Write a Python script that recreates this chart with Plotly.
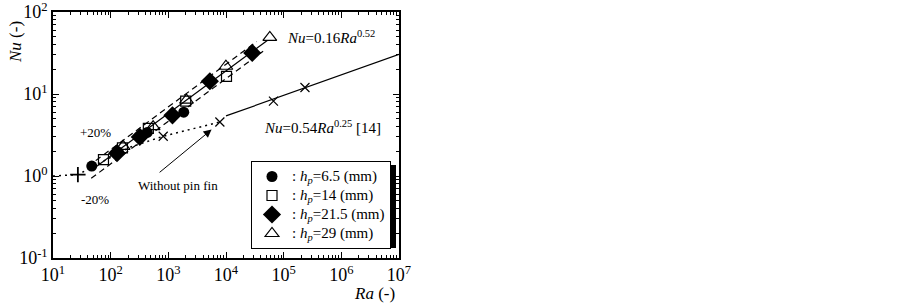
import numpy as np
import plotly.graph_objects as go

# ---- data ----
circ_ra = [47, 135, 430, 1850]
circ_nu = [1.32, 1.95, 3.4, 6.0]
sq_ra = [75, 160, 450, 2000, 10200]
sq_nu = [1.58, 2.2, 3.8, 8.2, 16.4]
dia_ra = [129, 320, 1180, 5250, 28500]
dia_nu = [1.9, 3.0, 5.5, 14.3, 31.7]
tri_ra = [164, 545, 2065, 9960, 57500]
tri_nu = [2.3, 4.0, 8.4, 21.8, 49]

nopin_ra = [815, 7830, 66500, 234000]
nopin_nu = [3.05, 4.56, 8.2, 12.0]
plus_ra = [27]
plus_nu = [1.04]

dot_ra = [10, 27, 215, 815, 7830]
dot_nu = [1.0, 1.04, 2.24, 3.05, 4.56]

fit_ra = [45, 52000]
fit_nu = [1.16, 45]
up_ra = [55, 34000]
up_nu = [1.54, 43.6]
lo_ra = [46, 44000]
lo_nu = [0.937, 33.3]
ref_ra = [10000, 1e7]
ref_nu = [5.4, 30.4]

x_decades = [1, 2, 3, 4, 5, 6, 7]
y_decades = [-1, 0, 1, 2]
x_ticktext = ["10<sup>1</sup>", "10<sup>2</sup>", "10<sup>3</sup>", "10<sup>4</sup>",
              "10<sup>5</sup>", "10<sup>6</sup>", "10<sup>7</sup>"]
y_ticktext = ["10<sup>-1</sup>", "10<sup>0</sup>", "10<sup>1</sup>", "10<sup>2</sup>"]

legend_labels = ["6.5", "14", "21.5", "29"]
legend_names = ["<span style='font-size:15px'>: <i>h<sub>p</sub></i>=%s (mm)</span>" % v
                for v in legend_labels]

FONT = "Liberation Serif"

fig = go.Figure()

def line(xs, ys, dash="solid", width=1.2):
    fig.add_trace(go.Scatter(x=xs, y=ys, mode="lines", showlegend=False,
                             line=dict(color="black", width=width, dash=dash),
                             hoverinfo="skip"))

line(dot_ra, dot_nu, dash="2px,4px", width=1.5)
line(ref_ra, ref_nu)
line(up_ra, up_nu, dash="6px,4px")
line(lo_ra, lo_nu, dash="6px,4px")
line(fit_ra, fit_nu)

fig.add_trace(go.Scatter(x=nopin_ra, y=nopin_nu, mode="markers", showlegend=False,
                         marker=dict(symbol="x-thin-open", size=9, color="black",
                                     line=dict(color="black", width=1.2))))
fig.add_trace(go.Scatter(x=plus_ra, y=plus_nu, mode="markers", showlegend=False,
                         marker=dict(symbol="cross-thin-open", size=11, color="black",
                                     line=dict(color="black", width=1.8))))

fig.add_trace(go.Scatter(x=circ_ra, y=circ_nu, mode="markers", name=legend_names[0],
                         marker=dict(symbol="circle", size=11, color="black")))
fig.add_trace(go.Scatter(x=sq_ra, y=sq_nu, mode="markers", name=legend_names[1],
                         marker=dict(symbol="square-open", size=10, color="black",
                                     line=dict(width=1.2))))
fig.add_trace(go.Scatter(x=dia_ra, y=dia_nu, mode="markers", name=legend_names[2],
                         marker=dict(symbol="diamond", size=14, color="black")))
fig.add_trace(go.Scatter(x=tri_ra, y=tri_nu, mode="markers", name=legend_names[3],
                         marker=dict(symbol="triangle-up-open", size=12, color="black",
                                     line=dict(width=1.2))))

minor_x = [m * 10 ** d for d in x_decades[:-1] for m in range(2, 10)]
minor_y = [m * 10.0 ** d for d in y_decades[:-1] for m in range(2, 10)]

axis_common = dict(showline=True, linecolor="black", linewidth=1.5, mirror="ticks",
                   ticks="inside", ticklen=6, tickwidth=1.2, tickcolor="black",
                   showgrid=False, zeroline=False, automargin=False,
                   ticklabeloverflow="allow",
                   tickfont=dict(family=FONT, size=18, color="black"))

fig.update_xaxes(type="log", range=[1, 7], tickmode="array",
                 tickvals=[10 ** d for d in x_decades], ticktext=x_ticktext,
                 minor=dict(tickmode="array", tickvals=minor_x, ticks="inside",
                            ticklen=3, tickwidth=1, tickcolor="black", showgrid=False),
                 **axis_common)
fig.update_yaxes(type="log", range=[-1, 2], tickmode="array",
                 tickvals=[10.0 ** d for d in y_decades], ticktext=y_ticktext,
                 minor=dict(tickmode="array", tickvals=minor_y, ticks="inside",
                            ticklen=3, tickwidth=1, tickcolor="black", showgrid=False),
                 **axis_common)

# figure geometry (page pixels; body margin removed by post_script)
W, H = 903, 306
L, T = 53, 12
PW, PH = 346, 246
R = W - L - PW
B = H - T - PH

def px(xp):  # page pixel -> paper x
    return (xp - L) / PW

def py(yp):  # page pixel -> paper y
    return (T + PH - yp) / PH

ann_font = dict(family=FONT, size=15, color="black")
annotations = [
    dict(x=px(285), y=py(37), xref="paper", yref="paper", xanchor="left", yanchor="middle",
         text="<i>Nu</i>=0.16<i>Ra</i><sup>0.52</sup>", showarrow=False, font=ann_font),
    dict(x=px(262), y=py(127), xref="paper", yref="paper", xanchor="left", yanchor="middle",
         text="<i>Nu</i>=0.54<i>Ra</i><sup>0.25</sup> [14]", showarrow=False, font=ann_font),
    dict(x=px(95), y=py(132), xref="paper", yref="paper", xanchor="center", yanchor="middle",
         text="+20%", showarrow=False, font=dict(family=FONT, size=13, color="black")),
    dict(x=px(95), y=py(199), xref="paper", yref="paper", xanchor="center", yanchor="middle",
         text="-20%", showarrow=False, font=dict(family=FONT, size=13, color="black")),
    dict(x=px(178), y=py(185), xref="paper", yref="paper", xanchor="center", yanchor="middle",
         text="Without pin fin", showarrow=False, font=dict(family=FONT, size=13, color="black")),
    dict(x=np.log10(5620), y=np.log10(3.68), ax=np.log10(665), ay=np.log10(1.07),
         xref="x", yref="y", axref="x", ayref="y", text="", showarrow=True,
         arrowhead=2, arrowsize=1.6, arrowwidth=1, arrowcolor="black"),
    dict(x=px(374), y=py(293), xref="paper", yref="paper", text="<i>Ra</i> (-)",
         showarrow=False, xanchor="center", yanchor="middle",
         font=dict(family=FONT, size=17, color="black")),
    dict(x=px(15), y=py(42), xref="paper", yref="paper",
         text="<i>Nu</i> (-)", textangle=-90, showarrow=False,
         xanchor="center", yanchor="middle",
         font=dict(family=FONT, size=17, color="black")),
]

# legend shadow
lx0, lx1, ly0, ly1 = 251, 393, 161, 245
fig.add_shape(type="rect", xref="paper", yref="paper",
              x0=px(lx0 + 4), x1=px(lx1 + 3), y0=py(ly1 + 3), y1=py(ly0 + 4),
              fillcolor="black", line=dict(width=0), layer="above")

fig.update_layout(
    width=W, height=H,
    margin=dict(l=L, r=R, t=T, b=B, autoexpand=False),
    paper_bgcolor="white", plot_bgcolor="white",
    annotations=annotations,
    showlegend=True,
    legend=dict(x=px(lx0), y=py(ly0), xanchor="left", yanchor="top",
                bgcolor="white", bordercolor="black", borderwidth=1,
                font=dict(family=FONT, size=12, color="black"),
                tracegroupgap=0, itemwidth=30),
)

fig.write_html("out.html", config={"displayModeBar": False},
               post_script="document.body.style.margin='0px';")
